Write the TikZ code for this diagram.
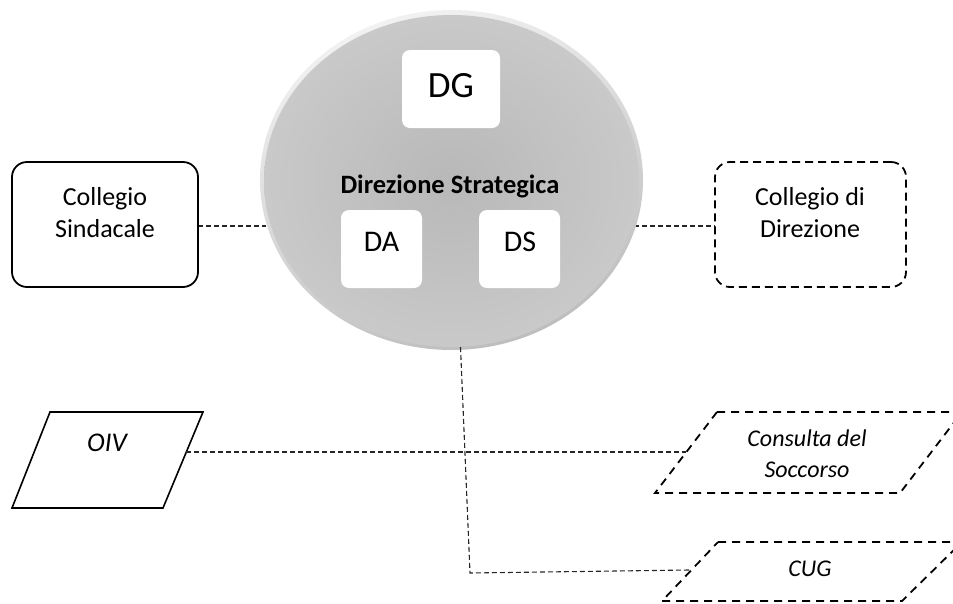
\documentclass[tikz,border=0pt]{standalone}
\usepackage{fontspec}
\setmainfont{Carlito}
\usetikzlibrary{shapes.geometric,backgrounds}
\definecolor{rimlight}{HTML}{F2F2F2}
\definecolor{rimdark}{HTML}{BDBDBD}
\definecolor{ellin}{HTML}{B8B8B8}
\definecolor{ellout}{HTML}{DADADA}
\pgfdeclareradialshading{dsrad}{\pgfpoint{0bp}{0bp}}{color(0bp)=(ellin); color(50bp)=(ellout)}
\tikzset{
  whitebox/.style={fill=white, rounded corners=8pt, inner sep=0pt},
  conn/.style={dash pattern=on 5pt off 3pt, line width=1.1pt, color=black!85},
  solidbox/.style={draw=black, line width=1.8pt, rounded corners=15pt, inner sep=0pt},
  dashbox/.style={draw=black, line width=1.8pt, rounded corners=15pt, inner sep=0pt, dash pattern=on 8pt off 5pt},
  para/.style={draw=black, line width=1.6pt},
  parad/.style={draw=black, line width=1.8pt, dash pattern=on 8pt off 6pt},
  lbl/.style={font=\fontsize{26}{32}\selectfont, align=center, inner sep=0pt},
  ilbl/.style={font=\fontsize{24}{31}\selectfont\itshape, align=center, inner sep=0pt},
}
\begin{document}
\begin{tikzpicture}[x=1pt,y=-1pt]
\useasboundingbox (0,0) rectangle (953,603);

% central ellipse
\node[ellipse, minimum width=383pt, minimum height=340pt, inner sep=0pt,
      top color=rimlight, bottom color=rimdark, shading angle=20] (ds) at (451.5,180) {};
\shade[shading=dsrad] (451.5,181) ellipse [x radius=187.5, y radius=166];

\node[whitebox, minimum width=98pt, minimum height=78pt] (dg) at (451,89) {};
\node[inner sep=0pt, font=\fontsize{37}{44}\selectfont] (dgt) at (451,86) {DG};
\node[whitebox, minimum width=81pt, minimum height=78pt] (da) at (381.5,249) {};
\node[inner sep=0pt, font=\fontsize{30}{36}\selectfont] (dat) at (381.5,241.5) {DA};
\node[whitebox, minimum width=81pt, minimum height=78pt] (dsb) at (519.5,249) {};
\node[inner sep=0pt, font=\fontsize{30}{36}\selectfont] (dst) at (520,241.5) {DS};
\node[inner sep=0pt, anchor=base, font=\fontsize{26.5}{31}\selectfont\bfseries] (dstr) at (450,193) {Direzione Strategica};

% side boxes
\node[solidbox, minimum width=186pt, minimum height=125pt] (cs) at (105,224.5) {};
\node[lbl] (cst) at (105,213) {Collegio\\Sindacale};
\node[dashbox, minimum width=191pt, minimum height=125pt] (cd) at (810.5,224.5) {};
\node[lbl] (cdt) at (810,213) {Collegio di\\Direzione};

% parallelograms
\draw[para] (50,412) -- (203,412) -- (163,508) -- (12,508) -- cycle;
\node[inner sep=0pt, anchor=base, font=\fontsize{27}{31}\selectfont\itshape] (oiv) at (107,451.5) {OIV};
\draw[parad] (717,412) -- (962,412) -- (900,493) -- (655,493) -- cycle;
\node[ilbl] (cons) at (807,454) {Consulta del\\Soccorso};
\draw[parad] (718,542) -- (962,542) -- (902,601) -- (662,601) -- cycle;
\node[inner sep=0pt, anchor=base, font=\fontsize{24}{31}\selectfont\itshape] (cug) at (810,576) {CUG};

\coordinate (cse) at (198,226);
\coordinate (dsw) at (266,226);
\coordinate (dse) at (634,226);
\coordinate (cdw) at (715,226);
\coordinate (oive) at (186,452);
\coordinate (consw) at (686,452);
\coordinate (vtop) at (460.5,347);
\coordinate (vbot) at (470,573);
\coordinate (cugw) at (689,570);

\begin{scope}[on background layer]
\draw[conn] (cse) -- (dsw);
\draw[conn] (dse) -- (cdw);
\end{scope}
\draw[conn] (vtop) -- (vbot) -- (cugw);
\draw[conn] (oive) -- (consw);
\end{tikzpicture}
\end{document}
